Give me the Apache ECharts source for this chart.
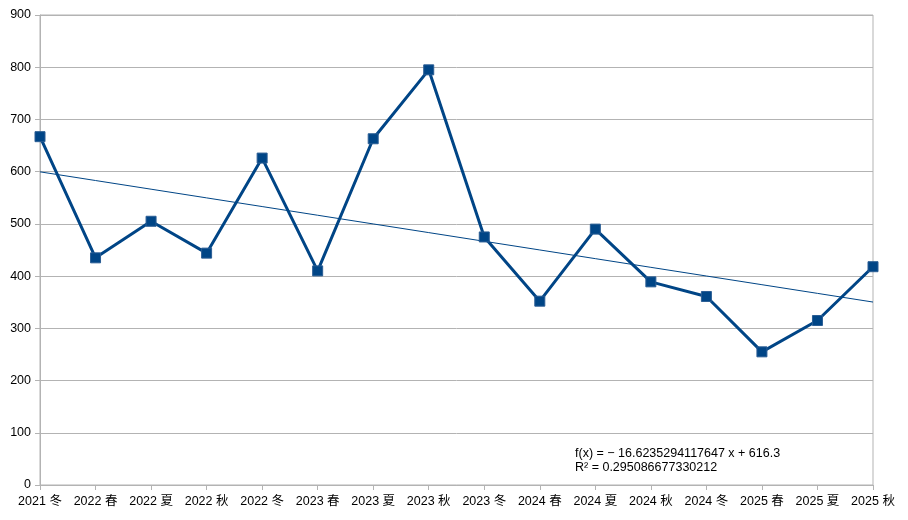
<!DOCTYPE html>
<html>
<head>
<meta charset="utf-8">
<script src="https://cdn.jsdelivr.net/npm/echarts@6/dist/echarts.min.js"></script>
<style>
html,body{margin:0;padding:0;background:#fff;}
#chart{width:908px;height:520px;}
</style>
</head>
<body>
<div id="chart"></div>
<script>
const categories = ['2021 冬','2022 春','2022 夏','2022 秋','2022 冬','2023 春','2023 夏','2023 秋','2023 冬','2024 春','2024 夏','2024 秋','2024 冬','2025 春','2025 夏','2025 秋'];
const values = [667, 435, 505, 444, 626, 410, 663, 795, 475, 352, 490, 389, 361, 255, 315, 418];
const yTicks = [0, 100, 200, 300, 400, 500, 600, 700, 800, 900];
const equationLines = ['f(x) = − 16.6235294117647 x + 616.3', 'R² = 0.295086677330212'];

// linear regression trend line from the data (x = 1..n)
const n = values.length;
let sx = 0, sy = 0, sxy = 0, sxx = 0;
values.forEach((v, i) => { const x = i + 1; sx += x; sy += v; sxy += x * v; sxx += x * x; });
const slope = (n * sxy - sx * sy) / (n * sxx - sx * sx);
const intercept = (sy - slope * sx) / n;
const trend = values.map((v, i) => slope * (i + 1) + intercept);

const FONT = '"Liberation Sans", "Noto Sans CJK SC", sans-serif';
const FS = 12.5;
const chart = echarts.init(document.getElementById('chart'));
chart.setOption({
  animation: false,
  backgroundColor: '#ffffff',
  grid: { left: 40, right: 35, top: 15, bottom: 35, show: true, borderColor: '#b3b3b3', borderWidth: 1 },
  xAxis: {
    type: 'category',
    data: categories,
    boundaryGap: false,
    axisLine: { lineStyle: { color: '#b3b3b3', width: 1 } },
    axisTick: { show: true, inside: false, length: 5, alignWithLabel: true, lineStyle: { color: '#b3b3b3' } },
    axisLabel: { color: '#000', fontFamily: FONT, fontSize: FS, margin: 10, interval: 0 },
    splitLine: { show: false }
  },
  yAxis: {
    type: 'value',
    min: yTicks[0],
    max: yTicks[yTicks.length - 1],
    interval: 100,
    axisLine: { show: true, lineStyle: { color: '#b3b3b3', width: 1 } },
    axisTick: { show: true, inside: false, length: 5, lineStyle: { color: '#b3b3b3' } },
    axisLabel: { color: '#000', fontFamily: FONT, fontSize: FS, margin: 9 },
    splitLine: { show: true, lineStyle: { color: '#b3b3b3', width: 1 } }
  },
  series: [
    {
      type: 'line',
      data: values,
      lineStyle: { color: '#004586', width: 3 },
      itemStyle: { color: '#004586', borderColor: '#2a5d94', borderWidth: 1 },
      symbol: 'rect',
      symbolSize: 10,
      showAllSymbol: true,
      z: 3
    },
    {
      type: 'line',
      data: trend,
      lineStyle: { color: '#004586', width: 1 },
      symbol: 'none',
      silent: true,
      z: 2
    }
  ],
  graphic: [
    {
      type: 'text', left: 575, top: 447,
      style: { text: equationLines.join('\n'), fill: '#000', font: FS + 'px ' + FONT, lineHeight: 14 }
    }
  ]
});
</script>
</body>
</html>
